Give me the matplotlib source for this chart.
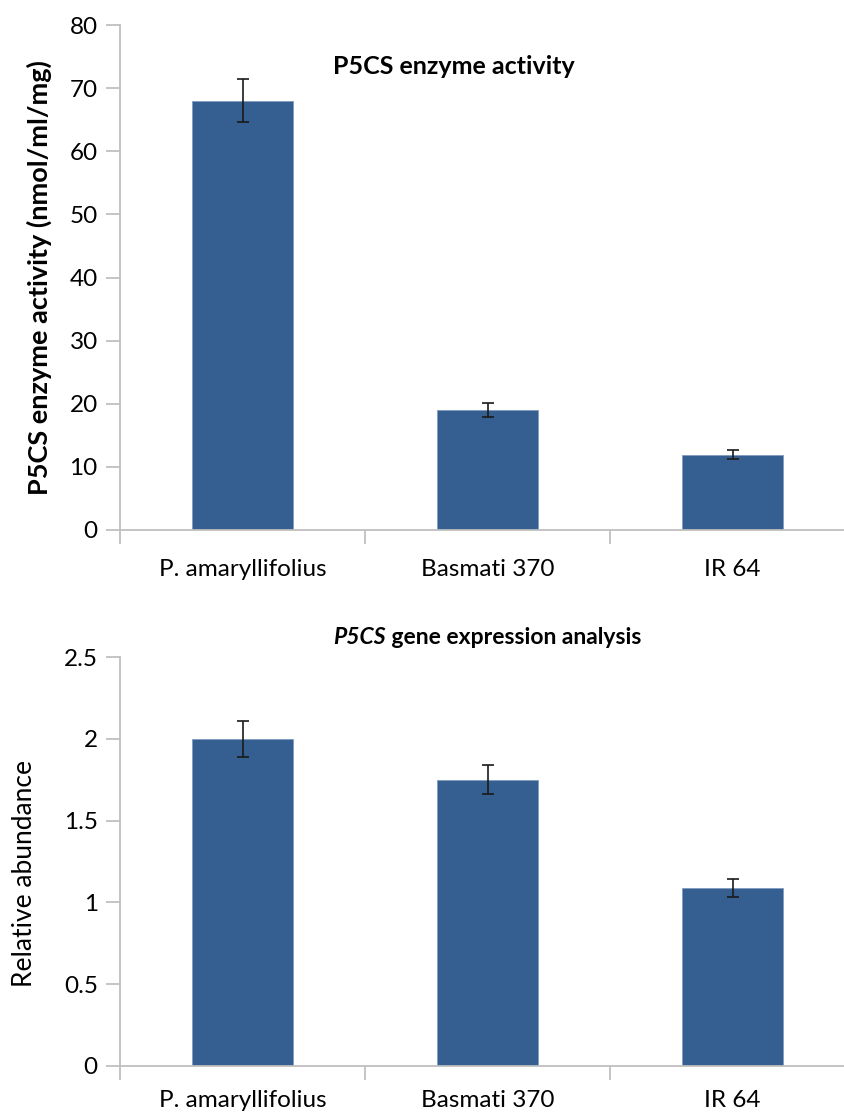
import matplotlib.pyplot as plt
from matplotlib.ticker import FixedLocator, NullFormatter

plt.rcParams['font.family'] = ['Lato', 'DejaVu Sans']

cultivars = ['P. amaryllifolius', 'Basmati 370', 'IR 64']
activity = [68.0, 19.0, 11.9]
activity_err = [3.4, 1.1, 0.7]
abundance = [2.0, 1.75, 1.09]
abundance_err = [0.11, 0.09, 0.055]

bar_color = '#365f91'
spine_color = '#bfbfbf'

W, H = 844, 1117
fig = plt.figure(figsize=(W / 100, H / 100), dpi=100)

def px_axes(left, top, right, bottom):
    return fig.add_axes([left / W, 1 - bottom / H, (right - left) / W, (bottom - top) / H])

def style(ax, ymax, ystep, xpad):
    x = range(len(cultivars))
    ax.set_xlim(-0.5, len(cultivars) - 0.5)
    ax.set_ylim(0, ymax)
    ax.spines[['top', 'right']].set_visible(False)
    for s in ['left', 'bottom']:
        ax.spines[s].set_color(spine_color)
        ax.spines[s].set_linewidth(1.3)
    ax.xaxis.set_major_locator(FixedLocator([i - 0.5 for i in range(len(cultivars) + 1)]))
    ax.xaxis.set_major_formatter(NullFormatter())
    ax.xaxis.set_minor_locator(FixedLocator(list(x)))
    ax.set_xticklabels(cultivars, minor=True)
    ax.tick_params(axis='x', which='major', length=10, color=spine_color, width=1.3)
    ax.tick_params(axis='x', which='minor', length=0, pad=xpad, labelsize=17.5)
    ticks = [i * ystep for i in range(int(round(ymax / ystep)) + 1)]
    ax.set_yticks(ticks)
    ax.set_yticklabels([f'{t:g}' for t in ticks])
    ax.tick_params(axis='y', length=10, color=spine_color, width=1.3, pad=6, labelsize=17.5)

err_style = dict(ecolor='#1a1a1a', elinewidth=1.2, capthick=1.2)

# top panel: enzyme activity
ax1 = px_axes(120, 25, 855, 530)
ax1.bar(range(3), activity, width=0.41, color=bar_color, edgecolor='#7f9cc0', linewidth=0.6,
        yerr=activity_err, capsize=4, error_kw=err_style)
style(ax1, 80, 10, 21)
fig.text(333 / W, 1 - 67 / H, 'P5CS enzyme activity', ha='left', va='center',
         fontsize=18, fontweight='bold')
ax1.set_ylabel('P5CS enzyme activity (nmol/ml/mg)', fontsize=19.5, fontweight='bold')
ax1.yaxis.set_label_coords(-0.092, 0.5)

# bottom panel: gene expression
ax2 = px_axes(120, 657, 855, 1066)
ax2.bar(range(3), abundance, width=0.41, color=bar_color, edgecolor='#7f9cc0', linewidth=0.6,
        yerr=abundance_err, capsize=4, error_kw=err_style)
style(ax2, 2.5, 0.5, 17)
t1 = fig.text(333 / W, 1 - 637 / H, 'P5CS', ha='left', va='center',
              fontsize=16.5, fontweight='bold', fontstyle='italic')
ax2.annotate(' gene expression analysis', xy=(1, 0), xycoords=t1, ha='left', va='bottom',
             fontsize=16.5, fontweight='bold')
ax2.set_ylabel('Relative abundance', fontsize=19)
ax2.yaxis.set_label_coords(-0.113, 0.47)

fig.savefig('out.png', dpi=100)
